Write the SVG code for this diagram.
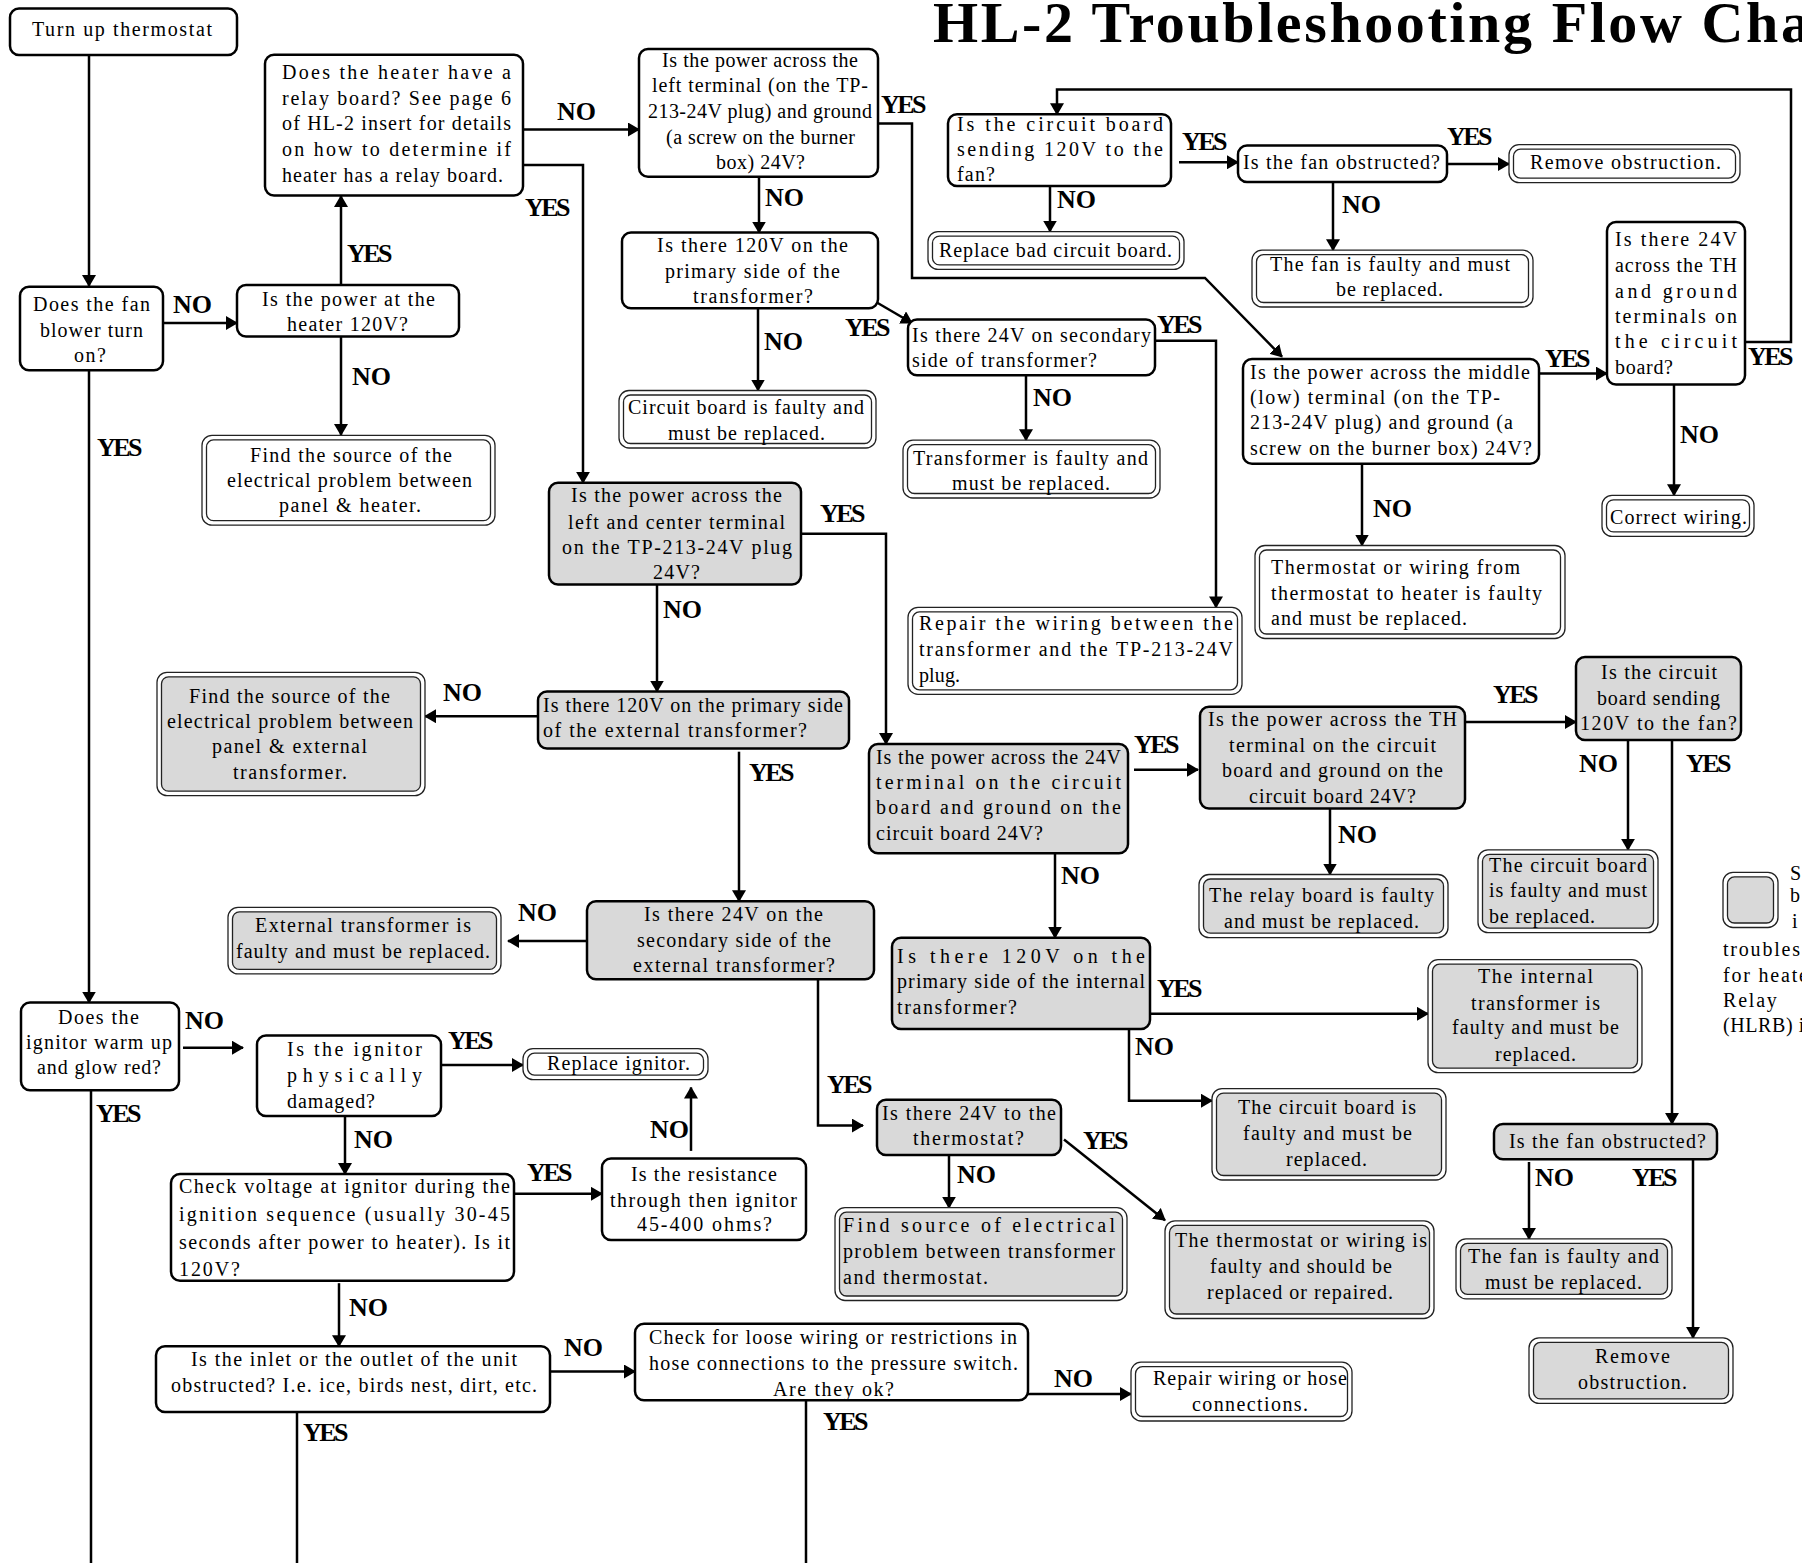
<svg xmlns="http://www.w3.org/2000/svg" width="1802" height="1563" viewBox="0 0 1802 1563">
<style>
text{font-family:"Liberation Serif","Times New Roman",serif;font-size:20px;fill:#000}
.b{fill:#fff;stroke:#000;stroke-width:2.5}
.g{fill:#d9d9d9;stroke:#000;stroke-width:2.5}
.o{fill:#fff;stroke:#222;stroke-width:1.3}
.i{fill:#fff;stroke:#222;stroke-width:1.3}
.ig{fill:#d9d9d9;stroke:#222;stroke-width:1.3}
.k{fill:none;stroke:#000;stroke-width:2.5;marker-end:url(#a)}
.kn{fill:none;stroke:#000;stroke-width:2.5}
.lb{font-weight:bold;font-size:26px}
.y{letter-spacing:-2.5px}
.title{font-weight:bold;font-size:58px;letter-spacing:2.6px}
</style>
<defs>
<marker id="a" markerUnits="userSpaceOnUse" markerWidth="12" markerHeight="14" refX="11" refY="7" orient="auto"><path d="M0,0 L12,7 L0,14 z" fill="#000"/></marker>
</defs>
<rect width="1802" height="1563" fill="#fff"/>
<text class="title" x="933" y="42">HL-2 Troubleshooting Flow Cha</text>

<g id="connectors">
<path class="k" d="M89,55 V286"/>
<path class="k" d="M163,323 H237"/>
<path class="k" d="M341,285 V196"/>
<path class="k" d="M341,336.4 V435"/>
<path class="k" d="M523,129.5 H639"/>
<path class="k" d="M523,165 H583 V482.8"/>
<path class="k" d="M759,176.8 V232.6"/>
<path class="k" d="M758,308.3 V390.5"/>
<path class="k" d="M876,302 L912,323"/>
<path class="k" d="M878,123.4 H912 V277.9 H1205 L1282,356.7"/>
<path class="k" d="M1745,342.1 H1791 V89.6 H1057 V114.3"/>
<path class="k" d="M1179,162.3 H1238"/>
<path class="k" d="M1447,164 H1509"/>
<path class="k" d="M1333,181.9 V250.2"/>
<path class="k" d="M1050,186 V231.6"/>
<path class="k" d="M1155,340.8 H1216 V607.4"/>
<path class="k" d="M1026,375.3 V440.2"/>
<path class="k" d="M1539,373.6 H1607"/>
<path class="k" d="M1674,384.4 V495.3"/>
<path class="k" d="M1362,463.8 V545.5"/>
<path class="k" d="M801,533.7 H886 V744"/>
<path class="k" d="M657,584.4 V691.6"/>
<path class="k" d="M538,716.2 H425"/>
<path class="k" d="M739,751.7 V901.2"/>
<path class="k" d="M587,941 H508"/>
<path class="k" d="M818,979.3 V1125.6 H863"/>
<path class="k" d="M1134,769.7 H1198"/>
<path class="k" d="M1330,808.5 V874.5"/>
<path class="k" d="M1055,853.2 V937.7"/>
<path class="k" d="M1150,1013.8 H1428"/>
<path class="k" d="M1129,1029 V1100.7 H1212"/>
<path class="k" d="M1465,722 H1576"/>
<path class="k" d="M1628,740 V849.8"/>
<path class="k" d="M1672,740 V1123.9"/>
<path class="k" d="M1529,1162 V1238.9"/>
<path class="k" d="M1693,1159.2 V1337.9"/>
<path class="k" d="M949,1155 V1207.7"/>
<path class="k" d="M1064,1139.5 L1165,1220.2"/>
<path class="k" d="M89,370.2 V1002.6"/>
<path class="k" d="M183,1047.7 H243"/>
<path class="k" d="M441,1065 H523"/>
<path class="k" d="M345,1115.9 V1174.1"/>
<path class="k" d="M514,1193.8 H602"/>
<path class="k" d="M691,1150.9 V1087.5"/>
<path class="k" d="M339,1283.2 V1346.2"/>
<path class="k" d="M550,1371.5 H635"/>
<path class="k" d="M1028,1394 H1131"/>
<path class="kn" d="M91,1090.3 V1563"/>
<path class="kn" d="M297,1412 V1563"/>
<path class="kn" d="M806,1400.2 V1563"/>
<text class="lb" x="173" y="312.7">NO</text>
<text class="lb y" x="347" y="262">YES</text>
<text class="lb" x="352" y="385.4">NO</text>
<text class="lb y" x="97" y="456.4">YES</text>
<text class="lb" x="557" y="120">NO</text>
<text class="lb y" x="525" y="216.4">YES</text>
<text class="lb" x="765" y="206.2">NO</text>
<text class="lb" x="764" y="350">NO</text>
<text class="lb y" x="845" y="336.4">YES</text>
<text class="lb y" x="881" y="113.3">YES</text>
<text class="lb y" x="1182" y="150.4">YES</text>
<text class="lb y" x="1447" y="145.4">YES</text>
<text class="lb" x="1342" y="213">NO</text>
<text class="lb" x="1057" y="207.9">NO</text>
<text class="lb y" x="1157" y="333">YES</text>
<text class="lb" x="1033" y="405.7">NO</text>
<text class="lb y" x="1545" y="366.8">YES</text>
<text class="lb y" x="1748" y="365.1">YES</text>
<text class="lb" x="1680" y="442.9">NO</text>
<text class="lb" x="1373" y="517.2">NO</text>
<text class="lb y" x="820" y="522">YES</text>
<text class="lb" x="663" y="618.2">NO</text>
<text class="lb" x="443" y="701">NO</text>
<text class="lb y" x="749" y="780.5">YES</text>
<text class="lb" x="518" y="920.8">NO</text>
<text class="lb y" x="827" y="1092.7">YES</text>
<text class="lb y" x="1134" y="753.4">YES</text>
<text class="lb" x="1338" y="843">NO</text>
<text class="lb" x="1061" y="883.6">NO</text>
<text class="lb y" x="1157" y="996.9">YES</text>
<text class="lb" x="1135" y="1054.6">NO</text>
<text class="lb y" x="1493" y="702.7">YES</text>
<text class="lb" x="1579" y="772">NO</text>
<text class="lb y" x="1686" y="772">YES</text>
<text class="lb" x="1535" y="1185.5">NO</text>
<text class="lb y" x="1632" y="1185.5">YES</text>
<text class="lb" x="957" y="1182.8">NO</text>
<text class="lb y" x="1083" y="1148.8">YES</text>
<text class="lb" x="185" y="1029">NO</text>
<text class="lb y" x="96" y="1122.2">YES</text>
<text class="lb y" x="448" y="1049.4">YES</text>
<text class="lb" x="354" y="1148.1">NO</text>
<text class="lb y" x="527" y="1181">YES</text>
<text class="lb" x="650" y="1137.7">NO</text>
<text class="lb" x="349" y="1316">NO</text>
<text class="lb y" x="303" y="1440.8">YES</text>
<text class="lb" x="564" y="1355.9">NO</text>
<text class="lb y" x="823" y="1430.4">YES</text>
<text class="lb" x="1054" y="1387.1">NO</text>
</g>

<g id="n_start"><rect class="b" x="10" y="8.5" width="227" height="46.6" rx="9"/>
<text x="32" y="35.5" textLength="180">Turn up thermostat</text></g>

<g id="n_fan"><rect class="b" x="20" y="286.7" width="143" height="83.5" rx="9"/>
<text x="33" y="311" textLength="117">Does the fan</text>
<text x="40" y="336.7" textLength="103">blower turn</text>
<text x="74" y="361.8" textLength="32">on?</text></g>

<g id="n_power"><rect class="b" x="237" y="285" width="222" height="51.4" rx="9"/>
<text x="262" y="306" textLength="173">Is the power at the</text>
<text x="287" y="331.3" textLength="121">heater 120V?</text></g>

<g id="n_relay"><rect class="b" x="265" y="54.8" width="258" height="140.6" rx="9"/>
<text x="282" y="79.4" textLength="229">Does the heater have a</text>
<text x="282" y="104.8" textLength="229">relay board?  See page 6</text>
<text x="282" y="130.2" textLength="229">of HL-2 insert for details</text>
<text x="282" y="155.5" textLength="229">on how to determine if</text>
<text x="282" y="181.5" textLength="221">heater has a relay board.</text></g>

<g id="n_src1"><rect class="o" x="202" y="435.4" width="293" height="89.8" rx="10"/><rect class="i" x="206.5" y="439.9" width="284" height="80.8" rx="7"/>
<text x="250" y="461.5" textLength="202">Find the source of the</text>
<text x="227" y="486.8" textLength="245">electrical problem between</text>
<text x="279" y="512.2" textLength="142">panel &amp; heater.</text></g>

<g id="n_left"><rect class="b" x="639" y="49" width="239" height="127.8" rx="9"/>
<text x="662" y="67" textLength="196">Is the power across the</text>
<text x="652" y="92.3" textLength="216">left terminal (on the TP-</text>
<text x="648" y="118.3" textLength="224">213-24V plug) and ground</text>
<text x="666" y="143.7" textLength="189">(a screw on the burner</text>
<text x="716" y="169" textLength="89">box) 24V?</text></g>

<g id="n_120"><rect class="b" x="622" y="232.6" width="256" height="75.7" rx="9"/>
<text x="657" y="251.9" textLength="191">Is there 120V on the</text>
<text x="665" y="277.9" textLength="175">primary side of the</text>
<text x="693" y="303.3" textLength="120">transformer?</text></g>

<g id="n_cbf1"><rect class="o" x="619" y="390.5" width="257" height="57.5" rx="10"/><rect class="i" x="623.5" y="395" width="248" height="48.5" rx="7"/>
<text x="628" y="414.1" textLength="236">Circuit board is faulty and</text>
<text x="668" y="439.5" textLength="157">must be replaced.</text></g>

<g id="n_gray1"><rect class="g" x="549" y="482.8" width="252" height="101.6" rx="9"/>
<text x="571" y="502" textLength="211">Is the power across the</text>
<text x="568" y="528.6" textLength="217">left and center terminal</text>
<text x="562" y="554" textLength="230">on the TP-213-24V plug</text>
<text x="653" y="579.3" textLength="47">24V?</text></g>

<g id="n_cbs1"><rect class="b" x="948" y="114.3" width="223" height="71.7" rx="9"/>
<text x="957" y="131.2" textLength="206">Is the circuit board</text>
<text x="957" y="156.2" textLength="206">sending 120V to the</text>
<text x="957" y="180.9" textLength="38">fan?</text></g>

<g id="n_fob1"><rect class="b" x="1238" y="145.4" width="209" height="36.5" rx="9"/>
<text x="1243" y="169" textLength="197">Is the fan obstructed?</text></g>

<g id="n_rem1"><rect class="o" x="1509" y="144.7" width="231" height="37.9" rx="10"/><rect class="i" x="1513.5" y="149.2" width="222" height="28.9" rx="7"/>
<text x="1530" y="169" textLength="191">Remove obstruction.</text></g>

<g id="n_ff1"><rect class="o" x="1252" y="250.2" width="281" height="56.8" rx="10"/><rect class="i" x="1256.5" y="254.7" width="272" height="47.8" rx="7"/>
<text x="1270" y="270.5" textLength="240">The fan is faulty and must</text>
<text x="1336" y="295.8" textLength="107">be replaced.</text></g>

<g id="n_rbcb"><rect class="o" x="928" y="231.6" width="256" height="37.8" rx="10"/><rect class="i" x="932.5" y="236.1" width="247" height="28.8" rx="7"/>
<text x="939" y="257" textLength="233">Replace bad circuit board.</text></g>

<g id="n_24sec"><rect class="b" x="908" y="319.5" width="247" height="55.8" rx="9"/>
<text x="912" y="341.5" textLength="239">Is there 24V on secondary</text>
<text x="912" y="366.8" textLength="185">side of transformer?</text></g>

<g id="n_tf"><rect class="o" x="903" y="440.2" width="257" height="57.8" rx="10"/><rect class="i" x="907.5" y="444.7" width="248" height="48.8" rx="7"/>
<text x="913" y="464.8" textLength="235">Transformer is faulty and</text>
<text x="952" y="490.2" textLength="158">must be replaced.</text></g>

<g id="n_mid"><rect class="b" x="1243" y="359" width="296" height="104.8" rx="9"/>
<text x="1250" y="378.6" textLength="280">Is the power across the middle</text>
<text x="1250" y="404" textLength="250">(low) terminal (on the TP-</text>
<text x="1250" y="429.4" textLength="263">213-24V plug) and ground (a</text>
<text x="1250" y="454.7" textLength="282">screw on the burner box) 24V?</text></g>

<g id="n_th"><rect class="b" x="1607" y="222.1" width="138" height="162.3" rx="9"/>
<text x="1615" y="246.1" textLength="122">Is there 24V</text>
<text x="1615" y="272.1" textLength="122">across the TH</text>
<text x="1615" y="297.5" textLength="122">and ground</text>
<text x="1615" y="322.9" textLength="122">terminals on</text>
<text x="1615" y="348.2" textLength="122">the circuit</text>
<text x="1615" y="373.6" textLength="58">board?</text></g>

<g id="n_corr"><rect class="o" x="1602" y="495.3" width="152" height="41.1" rx="10"/><rect class="i" x="1606.5" y="499.8" width="143" height="32.1" rx="7"/>
<text x="1610" y="524" textLength="137">Correct wiring.</text></g>

<g id="n_thermo"><rect class="o" x="1255" y="545.5" width="310" height="93" rx="10"/><rect class="i" x="1259.5" y="550" width="301" height="84" rx="7"/>
<text x="1271" y="574.2" textLength="249">Thermostat or wiring from</text>
<text x="1271" y="599.6" textLength="271">thermostat to heater is faulty</text>
<text x="1271" y="625" textLength="196">and must be replaced.</text></g>

<g id="n_repair"><rect class="o" x="908" y="607.4" width="334" height="86.9" rx="10"/><rect class="i" x="912.5" y="611.9" width="325" height="77.9" rx="7"/>
<text x="919" y="630" textLength="314">Repair the wiring between the</text>
<text x="919" y="656" textLength="314">transformer and the TP-213-24V</text>
<text x="919" y="682.4" textLength="41">plug.</text></g>

<g id="n_src2"><rect class="o" x="157" y="672.3" width="268" height="123.4" rx="10"/><rect class="ig" x="161.5" y="676.8" width="259" height="114.4" rx="7"/>
<text x="189" y="702.7" textLength="201">Find the source of the</text>
<text x="167" y="728" textLength="246">electrical problem between</text>
<text x="212" y="753.4" textLength="155">panel &amp; external</text>
<text x="233" y="778.8" textLength="114">transformer.</text></g>

<g id="n_ext120"><rect class="g" x="538" y="691.6" width="311" height="56.8" rx="9"/>
<text x="543" y="711.8" textLength="300">Is there 120V on the primary side</text>
<text x="543" y="736.5" textLength="264">of the external transformer?</text></g>

<g id="n_ext24"><rect class="g" x="587" y="901.2" width="287" height="78.1" rx="9"/>
<text x="644" y="920.8" textLength="179">Is there 24V on the</text>
<text x="637" y="946.8" textLength="194">secondary side of the</text>
<text x="633" y="971.5" textLength="202">external transformer?</text></g>

<g id="n_extf"><rect class="o" x="228" y="907.3" width="273" height="66.6" rx="10"/><rect class="ig" x="232.5" y="911.8" width="264" height="57.6" rx="7"/>
<text x="255" y="932" textLength="216">External transformer is</text>
<text x="236" y="958" textLength="254">faulty and must be replaced.</text></g>

<g id="n_24term"><rect class="g" x="869" y="744" width="259" height="109.2" rx="9"/>
<text x="876" y="763.6" textLength="245">Is the power across the 24V</text>
<text x="876" y="789" textLength="245">terminal on the circuit</text>
<text x="876" y="814.3" textLength="245">board and ground on the</text>
<text x="876" y="839.6" textLength="167">circuit board 24V?</text></g>

<g id="n_thterm"><rect class="g" x="1200" y="706.8" width="265" height="101.7" rx="9"/>
<text x="1208" y="726.4" textLength="249">Is the power across the TH</text>
<text x="1229" y="751.7" textLength="207">terminal on the circuit</text>
<text x="1222" y="777.1" textLength="221">board and ground on the</text>
<text x="1249" y="802.5" textLength="167">circuit board 24V?</text></g>

<g id="n_rf"><rect class="o" x="1199" y="874.5" width="249" height="63.2" rx="10"/><rect class="ig" x="1203.5" y="879" width="240" height="54.2" rx="7"/>
<text x="1209" y="902.2" textLength="225">The relay board is faulty</text>
<text x="1224" y="927.5" textLength="195">and must be replaced.</text></g>

<g id="n_cbs2"><rect class="g" x="1576" y="657" width="165" height="83" rx="9"/>
<text x="1601" y="679" textLength="116">Is the circuit</text>
<text x="1597" y="705.4" textLength="123">board sending</text>
<text x="1580" y="730.4" textLength="157">120V to the fan?</text></g>

<g id="n_cbf2"><rect class="o" x="1478" y="849.8" width="180" height="82.8" rx="10"/><rect class="ig" x="1482.5" y="854.3" width="171" height="73.8" rx="7"/>
<text x="1489" y="871.8" textLength="158">The circuit board</text>
<text x="1489" y="897.1" textLength="158">is faulty and must</text>
<text x="1489" y="922.5" textLength="106">be replaced.</text></g>

<g id="legend"><rect class="o" x="1723" y="872.4" width="55" height="55.1" rx="10"/><rect class="ig" x="1727.5" y="876.9" width="46" height="46.1" rx="7"/>
<text x="1790" y="880.2">S</text>
<text x="1790" y="902.2">b</text>
<text x="1792" y="927.5">i</text>
<text x="1723" y="956.3" letter-spacing="1.8">troubles</text>
<text x="1723" y="981.6" letter-spacing="1.8">for heate</text>
<text x="1723" y="1007" letter-spacing="1.8">Relay</text>
<text x="1723" y="1032.4" letter-spacing="0.6">(HLRB) i</text></g>

<g id="n_int120"><rect class="g" x="892" y="937.7" width="258" height="91.3" rx="9"/>
<text x="897" y="963" textLength="248">Is there 120V on the</text>
<text x="897" y="988.4" textLength="248">primary side of the internal</text>
<text x="897" y="1013.8" textLength="120">transformer?</text></g>

<g id="n_intf"><rect class="o" x="1428" y="959.7" width="214" height="112.9" rx="10"/><rect class="ig" x="1432.5" y="964.2" width="205" height="103.9" rx="7"/>
<text x="1478" y="983.3" textLength="115">The internal</text>
<text x="1471" y="1009.7" textLength="129">transformer is</text>
<text x="1452" y="1034" textLength="167">faulty and must be</text>
<text x="1495" y="1061" textLength="81">replaced.</text></g>

<g id="n_ign"><rect class="b" x="21" y="1002.6" width="158" height="87.7" rx="9"/>
<text x="58" y="1024" textLength="81">Does the</text>
<text x="26" y="1049.4" textLength="146">ignitor warm up</text>
<text x="37" y="1073.7" textLength="124">and glow red?</text></g>

<g id="n_phys"><rect class="b" x="257" y="1035.6" width="184" height="80.3" rx="9"/>
<text x="287" y="1056.4" textLength="135">Is the ignitor</text>
<text x="287" y="1082.3" textLength="135">physically</text>
<text x="287" y="1108.3" textLength="88">damaged?</text></g>

<g id="n_repign"><rect class="o" x="523" y="1048.7" width="185" height="30.9" rx="10"/><rect class="i" x="527.5" y="1053.2" width="176" height="21.9" rx="7"/>
<text x="547" y="1070.2" textLength="143">Replace ignitor.</text></g>

<g id="n_check"><rect class="b" x="171" y="1174.1" width="343" height="106.7" rx="9"/>
<text x="179" y="1193.2" textLength="331">Check voltage at ignitor during the</text>
<text x="179" y="1220.8" textLength="331">ignition sequence (usually 30-45</text>
<text x="179" y="1248.6" textLength="331">seconds after power to heater).  Is it</text>
<text x="179" y="1276.3" textLength="61">120V?</text></g>

<g id="n_res"><rect class="b" x="602" y="1158.5" width="204" height="81.4" rx="9"/>
<text x="631" y="1181" textLength="146">Is the resistance</text>
<text x="610" y="1207" textLength="187">through then ignitor</text>
<text x="637" y="1231.2" textLength="135">45-400 ohms?</text></g>

<g id="n_inlet"><rect class="b" x="156" y="1346.2" width="394" height="65.8" rx="9"/>
<text x="191" y="1366.3" textLength="326">Is the inlet or the outlet of the unit</text>
<text x="171" y="1392.3" textLength="366">obstructed?  I.e. ice, birds nest, dirt, etc.</text></g>

<g id="n_loose"><rect class="b" x="635" y="1323.7" width="393" height="76.5" rx="9"/>
<text x="649" y="1343.8" textLength="368">Check for loose wiring or restrictions in</text>
<text x="649" y="1369.8" textLength="369">hose connections to the pressure switch.</text>
<text x="773" y="1395.7" textLength="121">Are they ok?</text></g>

<g id="n_rephose"><rect class="o" x="1131" y="1362.2" width="221" height="58.8" rx="10"/><rect class="i" x="1135.5" y="1366.7" width="212" height="49.8" rx="7"/>
<text x="1153" y="1385.4" textLength="194">Repair wiring or hose</text>
<text x="1192" y="1411.3" textLength="116">connections.</text></g>

<g id="n_t24"><rect class="g" x="877" y="1099.7" width="184" height="55.3" rx="9"/>
<text x="882" y="1120.4" textLength="174">Is there 24V to the</text>
<text x="913" y="1144.7" textLength="111">thermostat?</text></g>

<g id="n_fs3"><rect class="o" x="835" y="1207.7" width="292" height="92.8" rx="10"/><rect class="ig" x="839.5" y="1212.2" width="283" height="83.8" rx="7"/>
<text x="843" y="1232" textLength="272">Find source of electrical</text>
<text x="843" y="1258.3" textLength="272">problem between transformer</text>
<text x="843" y="1283.9" textLength="145">and thermostat.</text></g>

<g id="n_twf"><rect class="o" x="1165" y="1220.9" width="269" height="97.6" rx="10"/><rect class="ig" x="1169.5" y="1225.4" width="260" height="88.6" rx="7"/>
<text x="1175" y="1246.8" textLength="252">The thermostat or wiring is</text>
<text x="1210" y="1272.8" textLength="182">faulty and should be</text>
<text x="1207" y="1298.8" textLength="186">replaced or repaired.</text></g>

<g id="n_cbf3"><rect class="o" x="1212" y="1088.6" width="234" height="91.4" rx="10"/><rect class="ig" x="1216.5" y="1093.1" width="225" height="82.4" rx="7"/>
<text x="1238" y="1113.5" textLength="178">The circuit board is</text>
<text x="1243" y="1139.5" textLength="169">faulty and must be</text>
<text x="1286" y="1165.5" textLength="81">replaced.</text></g>

<g id="n_fob2"><rect class="g" x="1494" y="1123.9" width="223" height="35.3" rx="9"/>
<text x="1509" y="1148.1" textLength="197">Is the fan obstructed?</text></g>

<g id="n_ff2"><rect class="o" x="1456" y="1238.9" width="216" height="59.9" rx="10"/><rect class="ig" x="1460.5" y="1243.4" width="207" height="50.9" rx="7"/>
<text x="1468" y="1263.1" textLength="191">The fan is faulty and</text>
<text x="1485" y="1289.4" textLength="157">must be replaced.</text></g>

<g id="n_rem2"><rect class="o" x="1529" y="1337.9" width="204" height="65.5" rx="10"/><rect class="ig" x="1533.5" y="1342.4" width="195" height="56.5" rx="7"/>
<text x="1595" y="1362.9" textLength="75">Remove</text>
<text x="1578" y="1388.8" textLength="109">obstruction.</text></g>
</svg>
